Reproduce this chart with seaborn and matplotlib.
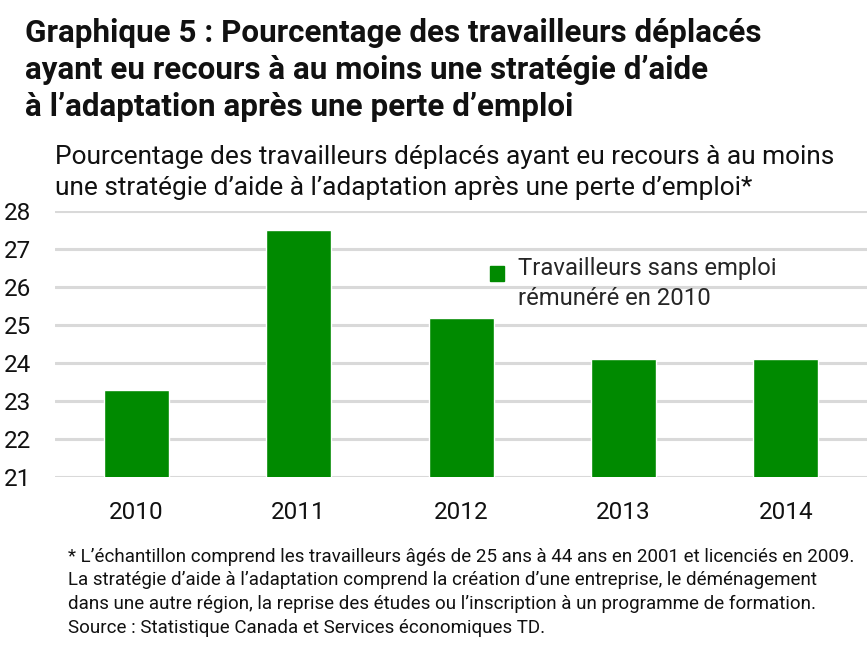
import matplotlib
matplotlib.use("Agg")
import matplotlib.pyplot as plt
import seaborn as sns
import pandas as pd
from matplotlib.patches import Patch, Rectangle
from matplotlib.legend_handler import HandlerPatch

years = ["2010", "2011", "2012", "2013", "2014"]
values = [23.3, 27.5, 25.2, 24.1, 24.1]
series_name = "Travailleurs sans emploi\nrémunéré en 2010"
yticks = [21, 22, 23, 24, 25, 26, 27, 28]

title = ("Graphique 5 : Pourcentage des travailleurs déplacés\n"
         "ayant eu recours à au moins une stratégie d’aide\n"
         "à l’adaptation après une perte d’emploi")
subtitle = ("Pourcentage des travailleurs déplacés ayant eu recours à au moins\n"
            "une stratégie d’aide à l’adaptation après une perte d’emploi*")
footnote = ("* L’échantillon comprend les travailleurs âgés de 25 ans à 44 ans en 2001 et licenciés en 2009.\n"
            "La stratégie d’aide à l’adaptation comprend la création d’une entreprise, le déménagement\n"
            "dans une autre région, la reprise des études ou l’inscription à un programme de formation.\n"
            "Source : Statistique Canada et Services économiques TD.")

sns.set_theme(style="white")
plt.rcParams['font.family'] = ['Roboto', 'DejaVu Sans']

df = pd.DataFrame({"year": years, "value": values, "series": series_name})

fig = plt.figure(figsize=(8.68, 6.48), dpi=100)
ax = fig.add_axes([0.0634, 0.264, 0.9356, 0.41])

green = "#008a00"
sns.barplot(data=df, x="year", y="value", hue="series", palette=[green],
            saturation=1, width=0.4, ax=ax, legend=False, zorder=3)

ax.set_ylim(21, 28)
ax.set_xlim(-0.5, 4.5)
ax.set_yticks(yticks)
ax.set_yticklabels([str(t) for t in yticks])
ax.yaxis.grid(True, color="#d9d9d9", linewidth=2.2, zorder=0)
ax.set_axisbelow(True)
for s in ax.spines.values():
    s.set_visible(False)
ax.set_xlabel("")
ax.set_ylabel("")
ax.tick_params(axis="y", labelsize=17.5, pad=17, length=0, colors="#111111")
ax.tick_params(axis="x", labelsize=17.5, pad=17.5, length=0, colors="#111111")


def raised_square(legend, orig_handle, xdescent, ydescent, width, height, fontsize):
    return Rectangle((-xdescent, -ydescent + 7.5), width, height)


leg = ax.legend(handles=[Patch(color=green, label=series_name)],
                loc="upper left", bbox_to_anchor=(0.535, 0.826), frameon=False,
                fontsize=17.2, handlelength=0.6, handleheight=0.6,
                handletextpad=0.6, borderaxespad=0, borderpad=0,
                labelspacing=0.2,
                handler_map={Patch: HandlerPatch(patch_func=raised_square)})
for t in leg.get_texts():
    t.set_linespacing(1.36)

fig.text(0.029, 0.972, title, ha="left", va="top", fontsize=22.6,
         fontweight="bold", color="#111111", linespacing=1.29)
fig.text(0.063, 0.777, subtitle, ha="left", va="top", fontsize=18.9,
         color="#111111", linespacing=1.38)
fig.text(0.078, 0.155, footnote, ha="left", va="top", fontsize=13.5,
         color="#111111", linespacing=1.42)

fig.savefig("out.png", dpi=100)
